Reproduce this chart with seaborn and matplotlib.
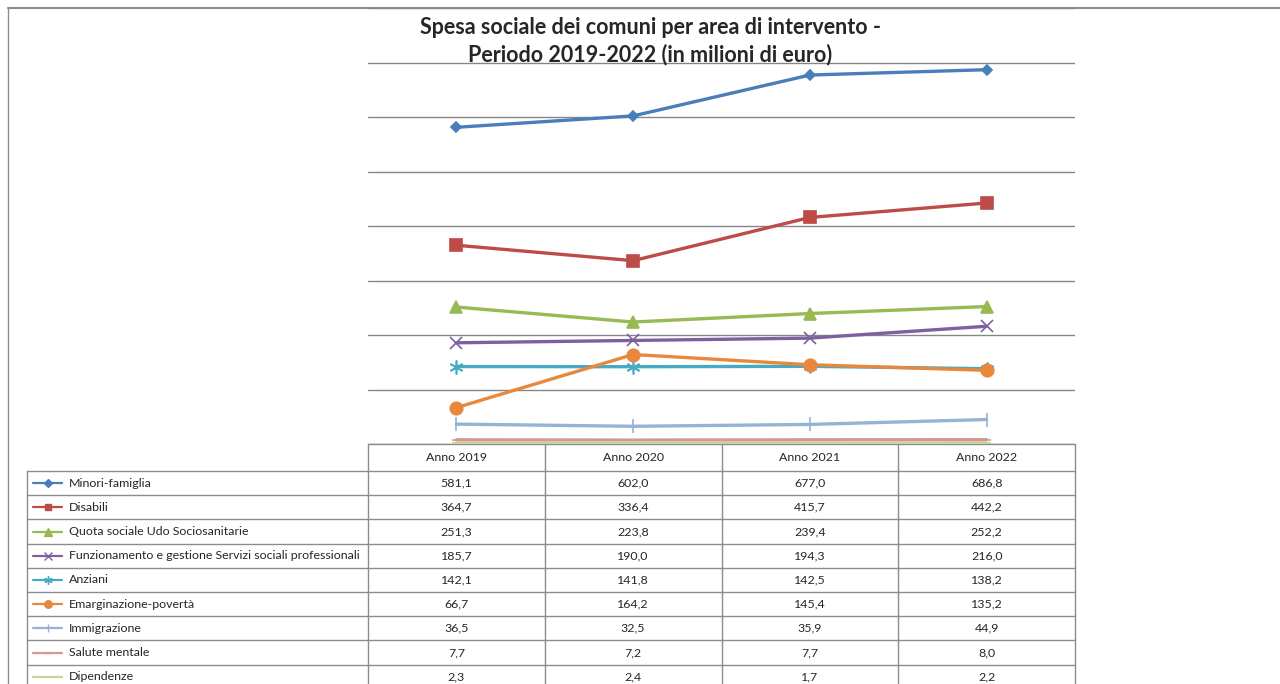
import numpy as np
import pandas as pd
import matplotlib
matplotlib.use("Agg")
import matplotlib.pyplot as plt
from matplotlib.lines import Line2D
import seaborn as sns

# ------------------------------
# Data (millions of euro)
# ------------------------------
YEARS = ["Anno 2019", "Anno 2020", "Anno 2021", "Anno 2022"]

SERIES = [
    "Minori-famiglia",
    "Disabili",
    "Quota sociale Udo Sociosanitarie",
    "Funzionamento e gestione Servizi sociali professionali",
    "Anziani",
    "Emarginazione-povertà",
    "Immigrazione",
    "Salute mentale",
    "Dipendenze",
]

minori = [581.1, 602.0, 677.0, 686.8]
disabili = [364.7, 336.4, 415.7, 442.2]
quota_udo = [251.3, 223.8, 239.4, 252.2]
funzionamento = [185.7, 190.0, 194.3, 216.0]
anziani = [142.1, 141.8, 142.5, 138.2]
emarginazione = [66.7, 164.2, 145.4, 135.2]
immigrazione = [36.5, 32.5, 35.9, 44.9]
salute_mentale = [7.7, 7.2, 7.7, 8.0]
dipendenze = [2.3, 2.4, 1.7, 2.2]

VALUES = [minori, disabili, quota_udo, funzionamento, anziani,
          emarginazione, immigrazione, salute_mentale, dipendenze]

# style per series: colour, marker, marker size
STYLES = [
    ("#4A7EBB", "D", 5.5),
    ("#BE4B48", "s", 8),
    ("#98B954", "^", 9),
    ("#7D60A0", "x", 9),
    ("#46AAC5", (6, 2, 0), 10),
    ("#E8883C", "o", 9),
    ("#95B3D7", "|", 10),
    ("#D99694", "_", 6),
    ("#C3D69B", "_", 6),
]

df = pd.DataFrame({
    "serie": np.repeat(SERIES, len(YEARS)),
    "anno": YEARS * len(SERIES),
    "x": list(range(len(YEARS))) * len(SERIES),
    "valore": np.concatenate(VALUES),
})

sns.set_style("white")
plt.rcParams["font.family"] = ["Lato", "DejaVu Sans"]

W, H = 1280, 684
fig = plt.figure(figsize=(W / 100, H / 100), dpi=100)

# overlay in pixel coordinates for frame and data table
ov = fig.add_axes([0, 0, 1, 1], zorder=0)
ov.set_xlim(0, W)
ov.set_ylim(H, 0)
ov.axis("off")

# main plot area
left, right, top, bottom = 368, 1075, 8, 444
ax = fig.add_axes([left / W, 1 - bottom / H, (right - left) / W, (bottom - top) / H], zorder=1)
ax.set_facecolor("none")

for (name, (color, marker, ms)) in zip(SERIES, STYLES):
    sub = df[df["serie"] == name]
    sns.lineplot(
        data=sub, x="x", y="valore", ax=ax,
        color=color, linewidth=2.4, marker=marker, markersize=ms,
        markeredgecolor=color, markeredgewidth=1.2, legend=False,
    )

ax.set_xlim(-0.5, len(YEARS) - 0.5)
ax.set_ylim(0, 800)
ax.set_yticks(np.arange(0, 801, 100))
ax.set_xticks([])
ax.set_yticklabels([])
ax.tick_params(left=False, bottom=False)
ax.grid(True, axis="y", color="#868686", linewidth=1)
ax.set_axisbelow(True)
for s in ax.spines.values():
    s.set_visible(False)
ax.set_xlabel("")
ax.set_ylabel("")

# outer frame
fc = "#8C8C8C"
ov.plot([8, W], [8, 8], color=fc, lw=1.5)
ov.plot([8, 8], [8, H], color=fc, lw=1)

# title
fig.text(650 / W, 1 - 28 / H, "Spesa sociale dei comuni per area di intervento -",
         ha="center", va="center", fontsize=15.5, fontweight="bold")
fig.text(650 / W, 1 - 55 / H, "Periodo 2019-2022 (in milioni di euro)",
         ha="center", va="center", fontsize=15.5, fontweight="bold")

# data table
tc = "#8C8C8C"
col_edges = np.linspace(left, right, len(YEARS) + 1)
row_h = 24.2
head_top, head_bot = 444, 471
row_lines = [head_bot + i * row_h for i in range(len(SERIES) + 1)]

ov.plot([left, right], [head_top, head_top], color=tc, lw=1)
for yl in row_lines:
    ov.plot([27, right], [yl, yl], color=tc, lw=1)
for xe in col_edges:
    ov.plot([xe, xe], [head_top, H], color=tc, lw=1)
ov.plot([27, 27], [head_bot, H], color=tc, lw=1)

fs = 8.9
for j, yr in enumerate(YEARS):
    xc = (col_edges[j] + col_edges[j + 1]) / 2
    ov.text(xc, (head_top + head_bot) / 2, yr, ha="center", va="center", fontsize=fs)

for i, (name, vals, (color, marker, ms)) in enumerate(zip(SERIES, VALUES, STYLES)):
    yc = head_bot + (i + 0.5) * row_h
    ov.add_line(Line2D([33, 62], [yc, yc], color=color, lw=1.6, marker=None))
    ov.add_line(Line2D([47.5], [yc], color=color, marker=marker,
                       markersize=max(ms * 0.6, 4), markeredgecolor=color, markeredgewidth=1))
    ov.text(69, yc, name, ha="left", va="center", fontsize=fs)
    for j, v in enumerate(vals):
        xc = (col_edges[j] + col_edges[j + 1]) / 2
        ov.text(xc, yc, f"{v:.1f}".replace(".", ","), ha="center", va="center", fontsize=fs)

fig.savefig("out.png", dpi=100)
